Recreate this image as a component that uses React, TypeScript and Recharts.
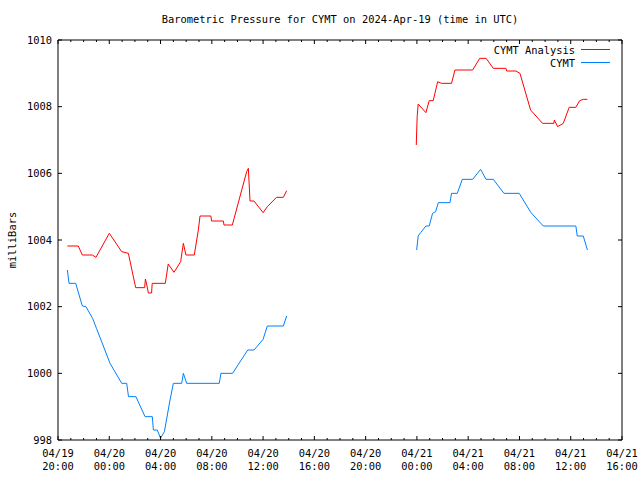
import { LineChart, Line, XAxis, YAxis, Legend } from "recharts";

const FONT = "'DejaVu Sans Mono', monospace";

// hours since 04/19 20:00 UTC
const hourTicks = Array.from({ length: 45 }, (_, i) => i);
const tickDates = ["04/19", "04/20", "04/20", "04/20", "04/20", "04/20", "04/20", "04/21", "04/21", "04/21", "04/21", "04/21"];
const tickTimes = ["20:00", "00:00", "04:00", "08:00", "12:00", "16:00", "20:00", "00:00", "04:00", "08:00", "12:00", "16:00"];
const pressureTicks = [998, 1000, 1002, 1004, 1006, 1008, 1010];

// CYMT Analysis (red); null marks the data gap
const analysisHours = [
    0.73, 1.58, 1.9, 2.68, 2.96, 4.0, 4.97, 5.49, 6.06, 6.76, 6.82, 6.93, 7.05, 7.3, 7.35, 8.37, 8.6, 9.05,
    9.57, 9.78, 9.98, 10.63, 10.95, 11.08, 11.93, 11.98, 12.9, 12.95, 13.6, 14.72, 14.85, 14.98, 15.29, 16.0,
    16.33, 17.05, 17.58, 17.84,
    23,
    27.95, 28.02, 28.1, 28.7, 28.96, 29.27, 29.62, 29.9, 30.7, 30.97, 32.35, 32.9, 33.4, 33.96, 34.95, 35.0,
    35.73, 36.04, 36.87, 37.8, 38.69, 38.72, 38.98, 39.42, 39.88, 40.4, 40.7, 40.98, 41.3,
];
const analysisValues = [
    1003.82, 1003.82, 1003.55, 1003.55, 1003.48, 1004.2, 1003.65, 1003.6, 1002.57, 1002.57, 1002.83, 1002.65,
    1002.41, 1002.41, 1002.7, 1002.7, 1003.28, 1003.03, 1003.35, 1003.9, 1003.55, 1003.55, 1004.3, 1004.72,
    1004.72, 1004.57, 1004.57, 1004.45, 1004.45, 1006.05, 1006.15, 1005.17, 1005.17, 1004.82, 1005.0, 1005.28,
    1005.28, 1005.48,
    null,
    1006.85, 1007.7, 1008.08, 1007.82, 1008.18, 1008.18, 1008.75, 1008.7, 1008.7, 1009.1, 1009.1, 1009.45,
    1009.45, 1009.15, 1009.15, 1009.07, 1009.07, 1009.0, 1007.9, 1007.5, 1007.5, 1007.6, 1007.4, 1007.5,
    1007.98, 1007.98, 1008.18, 1008.22, 1008.22,
];

// CYMT observed (blue)
const observedHours = [
    0.73, 0.86, 1.38, 1.9, 2.18, 2.7, 3.0, 4.06, 4.97, 5.36, 5.5, 6.08, 6.79, 7.36, 7.44, 7.75, 8.0, 8.3,
    8.74, 9.0, 9.65, 9.78, 10.04, 12.58, 12.71, 13.62, 14.8, 15.29, 16.0, 16.33, 17.58, 17.84,
    23,
    27.98, 28.1, 28.29, 28.7, 28.96, 29.22, 29.46, 29.67, 30.58, 30.7, 31.15, 31.54, 32.35, 32.97, 33.39,
    33.96, 34.79, 35.98, 36.9, 37.86, 40.4, 40.51, 40.98, 41.3,
];
const observedValues = [
    1003.1, 1002.7, 1002.7, 1002.02, 1002.0, 1001.65, 1001.35, 1000.3, 999.7, 999.7, 999.3, 999.3, 998.7,
    998.7, 998.3, 998.3, 998.05, 998.25, 999.2, 999.7, 999.7, 1000.0, 999.7, 999.7, 1000.0, 1000.0, 1000.7,
    1000.7, 1001.02, 1001.42, 1001.42, 1001.72,
    null,
    1003.7, 1004.12, 1004.22, 1004.42, 1004.42, 1004.8, 1004.85, 1005.12, 1005.12, 1005.4, 1005.4, 1005.82,
    1005.82, 1006.12, 1005.82, 1005.82, 1005.4, 1005.4, 1004.82, 1004.42, 1004.42, 1004.12, 1004.12, 1003.7,
];

const analysisData = analysisHours.map((h, i) => ({ h, p: analysisValues[i] }));
const observedData = observedHours.map((h, i) => ({ h, p: observedValues[i] }));

const SERIES = [
    { name: "CYMT Analysis", color: "#ff0000" },
    { name: "CYMT", color: "#0080ff" },
];

const BottomTick = (props: any) => {
    const { x, y, payload } = props;
    const h = payload.value;
    const major = h % 4 === 0;
    return (
        <g>
            <line x1={x} x2={x} y1={y} y2={y - (major ? 4 : 2)} stroke="#000" />
            {major && (
                <text x={x} y={y} textAnchor="middle" fontFamily={FONT} fontSize={10.4} fill="#000">
                    <tspan x={x} dy={17}>{tickDates[h / 4]}</tspan>
                    <tspan x={x} dy={13.4}>{tickTimes[h / 4]}</tspan>
                </text>
            )}
        </g>
    );
};

const TopTick = (props: any) => {
    const { x, y, payload } = props;
    const major = payload.value % 4 === 0;
    return <line x1={x} x2={x} y1={y} y2={y + (major ? 4 : 2)} stroke="#000" />;
};

const LeftTick = (props: any) => {
    const { x, y, payload } = props;
    return (
        <g>
            <line x1={x} x2={x + 4} y1={y} y2={y} stroke="#000" />
            <text x={x - 6} y={y} dy={3.6} textAnchor="end" fontFamily={FONT} fontSize={10.4} fill="#000">
                {payload.value}
            </text>
        </g>
    );
};

const RightTick = (props: any) => {
    const { x, y } = props;
    return <line x1={x} x2={x - 4} y1={y} y2={y} stroke="#000" />;
};

const renderLegend = () => (
    <div style={{ width: 150, fontFamily: FONT, fontSize: 10.4, color: "#000" }}>
        {SERIES.map(s => (
            <div key={s.name} style={{ display: "flex", justifyContent: "flex-end", alignItems: "center", height: 13 }}>
                <span>{s.name}</span>
                <svg width={36} height={13}>
                    <line x1={6} x2={35} y1={6.5} y2={6.5} stroke={s.color} strokeWidth={1} />
                </svg>
            </div>
        ))}
    </div>
);

const YLabel = (props: any) => {
    const { viewBox } = props;
    const cx = viewBox.x + 12;
    const cy = viewBox.y + viewBox.height / 2;
    return (
        <text x={cx} y={cy} transform={`rotate(-90 ${cx} ${cy})`} textAnchor="middle" dominantBaseline="central"
            fontFamily={FONT} fontSize={10.4} fill="#000">
            milliBars
        </text>
    );
};

const App = () => {
    return (
        <div style={{ position: "absolute", left: 0, top: 0, width: 640, height: 480, background: "#fff" }}>
            <div style={{ position: "absolute", left: 58, width: 564, top: 13, textAlign: "center", fontFamily: FONT, fontSize: 10.4, color: "#000" }}>
                Barometric Pressure for CYMT on 2024-Apr-19 (time in UTC)
            </div>
            <LineChart width={640} height={480} margin={{ top: 39, right: 17, bottom: 0, left: 0 }}>
                <XAxis xAxisId="bottom" dataKey="h" type="number" domain={[0, 44]} ticks={hourTicks} interval={0}
                    allowDataOverflow height={40} stroke="#000" tickSize={0} tickMargin={0} tickLine={false} tick={<BottomTick />} />
                <XAxis xAxisId="top" orientation="top" dataKey="h" type="number" domain={[0, 44]} ticks={hourTicks} interval={0}
                    allowDataOverflow height={1} stroke="#000" tickSize={0} tickMargin={0} tickLine={false} tick={<TopTick />} />
                <YAxis yAxisId="left" type="number" domain={[998, 1010]} ticks={pressureTicks} interval={0} allowDataOverflow
                    width={58} stroke="#000" tickSize={0} tickMargin={0} tickLine={false} tick={<LeftTick />}
                    label={{ content: (p: any) => <YLabel {...p} /> }} />
                <YAxis yAxisId="right" orientation="right" type="number" domain={[998, 1010]} ticks={pressureTicks} interval={0}
                    allowDataOverflow width={1} stroke="#000" tickSize={0} tickMargin={0} tickLine={false} tick={<RightTick />} />
                <Legend layout="vertical" align="center" verticalAlign="middle" content={renderLegend}
                    wrapperStyle={{ left: 461, top: 43, width: 150 }} />
                <Line xAxisId="bottom" yAxisId="left" data={analysisData} dataKey="p" name="CYMT Analysis" stroke="#ff0000"
                    strokeWidth={1} dot={false} isAnimationActive={false} type="linear" />
                <Line xAxisId="bottom" yAxisId="left" data={observedData} dataKey="p" name="CYMT" stroke="#0080ff"
                    strokeWidth={1} dot={false} isAnimationActive={false} type="linear" />
            </LineChart>
        </div>
    );
};

export default App;
